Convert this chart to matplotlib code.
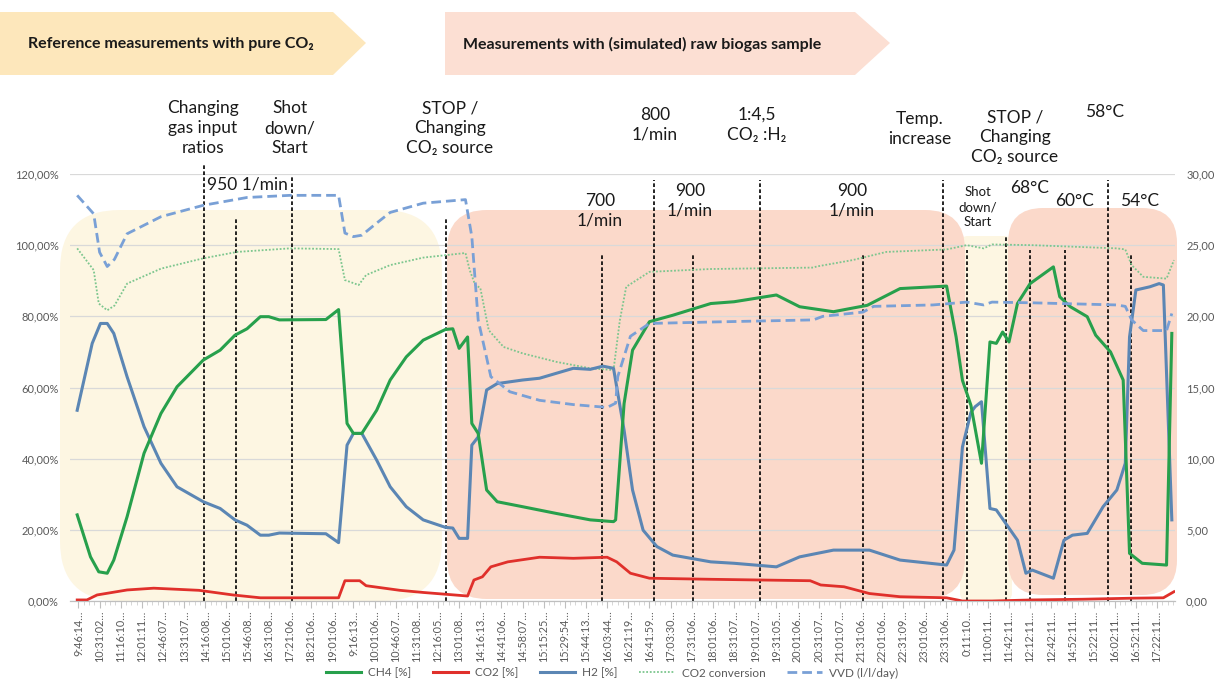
import matplotlib
matplotlib.use("Agg")
import matplotlib.pyplot as plt
import matplotlib.transforms as mtransforms
from matplotlib.patches import FancyBboxPatch, Polygon
from matplotlib.lines import Line2D

plt.rcParams['font.family'] = ['Lato', 'DejaVu Sans']

# ---------------- data ----------------
time_labels = ["9:46:14", "10:31:02", "11:16:10", "12:01:11", "12:46:07", "13:31:07", "14:16:08",
               "15:01:06", "15:46:08", "16:31:08", "17:21:06", "18:21:06", "19:01:06", "9:16:13",
               "10:01:06", "10:46:07", "11:31:08", "12:16:05", "13:01:08", "14:16:13", "14:41:06",
               "14:58:07", "15:15:25", "15:29:54", "15:44:13", "16:03:44", "16:21:19", "16:41:59",
               "17:03:30", "17:31:06", "18:01:06", "18:31:07", "19:01:07", "19:31:05", "20:01:06",
               "20:31:07", "21:01:07", "21:31:06", "22:01:06", "22:31:09", "23:01:06", "23:31:06",
               "0:11:10", "11:00:11", "11:42:11", "12:12:11", "12:42:11", "14:52:11", "15:22:11",
               "16:02:11", "16:52:11", "17:22:11"]

ch4_x = [-0.06, 0.57, 0.96, 1.36, 1.67, 2.3, 3.1, 3.9, 4.66, 5.9, 6.7, 7.4, 7.97, 8.6, 9.0, 9.5,
         11.7, 12.3, 12.7, 13.0, 13.4, 14.1, 14.74, 15.5, 16.3, 17.35, 17.7, 18.0, 18.4, 18.6, 18.9,
         19.3, 19.8, 21.0, 22.6, 24.2, 25.3, 25.4, 25.8, 26.2, 27.0, 28.1, 29.9, 31.0, 33.0, 34.1,
         35.7, 37.3, 38.85, 41.05, 41.5, 41.8, 42.2, 42.7, 43.1, 43.4, 43.7, 44.0, 44.4, 45.0, 46.1,
         46.4, 46.9, 47.7, 48.1, 48.8, 49.4, 49.7, 50.3, 51.45, 51.7]
ch4_y = [24.2, 12.4, 8.2, 7.8, 11.5, 23.7, 41.5, 52.7, 60.2, 67.7, 70.5, 74.7, 76.5, 79.9, 79.9, 79.0,
         79.1, 81.9, 49.9, 47.1, 47.1, 53.6, 62.1, 68.6, 73.3, 76.3, 76.5, 71.0, 74.2, 49.9, 47.1,
         31.2, 27.9, 26.5, 24.6, 22.8, 22.3, 22.8, 55.5, 70.5, 78.5, 80.3, 83.6, 84.1, 86.0, 82.7,
         81.3, 83.1, 87.8, 88.5, 74.2, 62.0, 55.0, 38.7, 72.8, 72.4, 75.6, 72.8, 83.6, 89.2, 93.9,
         85.5, 82.7, 79.9, 74.7, 70.0, 62.1, 13.4, 10.6, 10.1, 75.2]

h2_x = [-0.06, 0.65, 1.04, 1.36, 1.67, 2.3, 3.1, 3.9, 4.66, 5.9, 6.7, 7.4, 7.97, 8.6, 9.0, 9.5, 11.7,
        12.3, 12.7, 13.0, 13.4, 14.1, 14.74, 15.5, 16.3, 17.35, 17.7, 18.0, 18.4, 18.6, 18.9, 19.3,
        19.8, 21.0, 21.8, 22.6, 23.4, 24.2, 24.8, 25.3, 25.8, 26.2, 26.7, 27.35, 28.1, 29.9, 31.0,
        33.0, 34.1, 35.7, 37.4, 38.85, 41.05, 41.4, 41.8, 42.2, 42.4, 42.7, 43.1, 43.4, 44.4, 44.8,
        45.1, 46.1, 46.6, 47.0, 47.7, 48.45, 49.1, 49.5, 49.7, 50.0, 50.66, 51.1, 51.3, 51.7]
h2_y = [53.6, 72.4, 78.0, 78.0, 75.2, 63.0, 49.0, 38.7, 32.1, 27.9, 26.0, 22.8, 21.3, 18.5, 18.5, 19.1,
        18.9, 16.4, 43.8, 47.1, 47.1, 39.6, 32.1, 26.5, 22.8, 20.7, 20.5, 17.6, 17.6, 43.8, 46.1, 59.3,
        61.1, 62.1, 62.6, 64.0, 65.4, 65.1, 66.0, 65.4, 48.0, 31.2, 19.9, 15.3, 12.9, 11.0, 10.6,
        9.6, 12.4, 14.3, 14.3, 11.5, 10.1, 14.3, 43.3, 53.0, 54.6, 56.0, 26.0, 25.6, 17.1, 7.8,
        8.7, 6.4, 17.1, 18.5, 19.0, 26.5, 31.2, 38.7, 74.2, 87.4, 88.3, 89.2, 88.8, 22.8]

co2_x = [-0.06, 0.4, 0.88, 2.3, 3.56, 5.7, 7.3, 8.6, 12.3, 12.6, 13.3, 13.6, 15.2, 16.3, 18.4, 18.7,
         19.1, 19.5, 20.3, 21.8, 23.4, 25.0, 25.45, 26.1, 27.0, 29.9, 34.6, 35.1, 36.2, 37.4, 38.85,
         41.05, 41.8, 43.2, 45.1, 47.5, 49.9, 51.3, 51.8]
co2_y = [0.3, 0.3, 1.7, 3.1, 3.6, 3.0, 1.7, 0.9, 0.9, 5.7, 5.7, 4.3, 3.0, 2.4, 1.4, 5.9,
         6.8, 9.6, 11.0, 12.3, 12.0, 12.3, 11.0, 7.8, 6.4, 6.1, 5.7, 4.5, 4.0, 2.1, 1.2,
         0.9, 0.0, 0.0, 0.3, 0.5, 0.8, 0.9, 2.6]

conv_x = [-0.06, 0.72, 0.96, 1.36, 1.7, 2.3, 3.9, 5.9, 7.5, 10.0, 12.3, 12.6, 13.25, 13.6, 14.74,
          16.3, 18.3, 18.5, 18.76, 19.0, 19.4, 20.1, 21.0, 22.6, 24.2, 25.3, 25.6, 25.9, 27.0, 29.9,
          34.75, 34.9, 36.6, 38.2, 41.05, 42.0, 42.8, 43.2, 45.1, 49.1, 49.5, 49.8, 50.35, 51.45, 51.8]
conv_y = [99.1, 93.0, 83.6, 81.7, 83.0, 89.2, 93.4, 96.3, 98.1, 99.1, 98.9, 90.2, 88.8, 91.6, 94.4,
          96.5, 97.8, 93.0, 88.8, 88.0, 76.1, 71.4, 69.6, 67.2, 65.4, 64.9, 78.9, 88.3, 92.5, 93.3,
          93.7, 94.0, 95.8, 98.1, 98.8, 100.0, 99.1, 100.2, 100.0, 99.1, 98.8, 94.4, 91.1, 90.6, 95.8]

vvd_x = [-0.06, 0.72, 1.0, 1.36, 1.7, 2.3, 3.9, 5.9, 7.97, 10.0, 12.3, 12.6, 13.0, 13.4, 14.1, 14.74,
         16.3, 18.3, 18.6, 18.9, 19.5, 20.4, 21.8, 23.4, 25.0, 25.4, 25.5, 26.1, 27.0, 29.9, 34.75,
         35.2, 37.1, 37.6, 40.4, 42.0, 42.8, 43.2, 45.1, 49.1, 49.5, 49.8, 50.35, 51.45, 51.7]
vvd_y = [28.5, 27.2, 24.5, 23.5, 24.0, 25.8, 27.0, 27.8, 28.35, 28.5, 28.5, 25.85, 25.6, 25.7, 26.55,
         27.3, 27.95, 28.2, 25.6, 19.75, 15.76, 14.7, 14.1, 13.8, 13.6, 13.9, 15.76, 18.6, 19.5, 19.6,
         19.75, 20.0, 20.3, 20.7, 20.8, 21.0, 20.8, 21.0, 20.95, 20.8, 20.7, 19.75, 19.0, 19.0, 20.2]

# event markers (position in sample-index units, top of dashed line in %)
event_x = [5.95, 7.47, 10.09, 17.39, 24.76, 27.22, 29.06, 32.23, 37.1, 40.88, 42.01, 43.86,
           44.99, 46.64, 48.68, 49.76]
event_top = [123.0, 107.6, 119.4, 107.6, 97.8, 118.3, 97.8, 118.3, 97.8, 118.3, 98.6, 102.2,
             98.6, 98.6, 118.3, 97.8]

# ---------------- figure ----------------
W, H = 1223, 686
fig = plt.figure(figsize=(W / 100, H / 100), dpi=100)
pix = mtransforms.Affine2D().scale(1 / W, -1 / H).translate(0, 1) + fig.transFigure

L, R, T, B = 70, 1175, 174, 601
ax = fig.add_axes([L / W, 1 - B / H, (R - L) / W, (B - T) / H])
ax2 = ax.twinx()
ax.set_xlim(-0.4, 51.85)
ax.set_ylim(0, 120)
ax2.set_ylim(0, 30)

C_CH4 = '#27a04c'
C_CO2 = '#e0302b'
C_H2 = '#5b86b4'
C_CONV = '#7cc68e'
C_VVD = '#79a0d6'
TXT = '#595959'

# background shading
shades = [
    (60, 210, 382, 391, 60, '#fdf6e2'),
    (960, 236, 52, 365, 8, '#fdf6e2'),
    (447, 210, 518, 389, 40, '#fbd9ca'),
    (1008, 208, 169, 387, 35, '#fbd9ca'),
]
for (x0, y0, w, h, r, c) in shades:
    p = FancyBboxPatch((x0, y0), w, h, boxstyle=f"round,pad=0,rounding_size={r}",
                       transform=pix, facecolor=c, edgecolor='none', zorder=0.2, clip_on=False)
    ax.add_patch(p)

ax.set_axisbelow(True)
ax.yaxis.grid(True, color='#d9d9d9', lw=0.9)
ax.set_yticks(range(0, 121, 20))
ax.set_yticklabels([f"{v:.2f}%".replace('.', ',') for v in range(0, 121, 20)])
ax2.set_yticks(range(0, 31, 5))
ax2.set_yticklabels([f"{v:.2f}".replace('.', ',') for v in range(0, 31, 5)])
ax.set_xticks(range(len(time_labels)))
ax.set_xticklabels([t + "…" for t in time_labels], rotation=90)
ax.set_xticks([i + f for i in range(len(time_labels)) for f in (0.25, 0.5, 0.75)], minor=True)
ax.tick_params(axis='x', which='major', length=5, color='#bfbfbf', labelsize=7.8, labelcolor=TXT, pad=2)
ax.tick_params(axis='x', which='minor', length=3, color='#d0d0d0')
ax.tick_params(axis='y', length=0, labelsize=8, labelcolor=TXT, pad=8)
ax2.tick_params(axis='y', length=0, labelsize=8, labelcolor=TXT, pad=8)
for a in (ax, ax2):
    for s in ('top', 'left', 'right'):
        a.spines[s].set_visible(False)
    a.spines['bottom'].set_color('#bfbfbf')

# event lines
ax.vlines(event_x, 0, event_top, colors='black', linestyles=(0, (2.2, 1.4)), lw=1.2,
          zorder=1.5, clip_on=False)

# series
ax.plot(conv_x, conv_y, color=C_CONV, lw=1.3, ls=(0, (1, 1)), zorder=3)
ax.plot(co2_x, co2_y, color=C_CO2, lw=2, zorder=3)
ax.plot(h2_x, h2_y, color=C_H2, lw=2.2, zorder=3)
ax.plot(ch4_x, ch4_y, color=C_CH4, lw=2.2, zorder=3)
ax2.plot(vvd_x, vvd_y, color=C_VVD, lw=2.0, ls=(0, (3.5, 1.8)), zorder=3)

# legend
handles = [Line2D([], [], color=C_CH4, lw=2.2), Line2D([], [], color=C_CO2, lw=2.2),
           Line2D([], [], color=C_H2, lw=2.2), Line2D([], [], color=C_CONV, lw=1.3, ls=(0, (1, 1))),
           Line2D([], [], color=C_VVD, lw=2, ls=(0, (3.5, 1.8)))]
labels = ["CH4 [%]", "CO2 [%]", "H2 [%]", "CO2 conversion", "VVD (l/l/day)"]
fig.legend(handles, labels, loc='center', bbox_to_anchor=(612 / W, 1 - 673 / H), ncol=5,
           frameon=False, fontsize=8.5, labelcolor=TXT, handlelength=3.0, columnspacing=1.8,
           handletextpad=0.6, borderpad=0.1)

# banners
banners = [([(0, 12), (333, 12), (366, 43), (333, 75), (0, 75)], '#fde7bb',
            "Reference measurements with pure CO₂", 28),
           ([(445, 12), (855, 12), (890, 43), (855, 75), (445, 75)], '#fcdfd3',
            "Measurements with (simulated) raw biogas sample", 463)]
for pts, c, txt, tx in banners:
    fig.add_artist(Polygon(pts, closed=True, transform=pix, facecolor=c, edgecolor='none'))
    fig.text(tx / W, 1 - 44 / H, txt, ha='left', va='center', fontsize=11.5,
             fontweight='bold', color='#1a1a1a')


def ftext(x, y, s, size=12.5, ls=1.3, ha='center', **kw):
    fig.text(x / W, 1 - y / H, s, ha=ha, va='center', fontsize=size, linespacing=ls,
             color='#1a1a1a', **kw)


ftext(203, 128, "Changing\ngas input\nratios")
ftext(290, 128, "Shot\ndown/\nStart")
ftext(450, 128, "STOP /\nChanging\nCO₂ source")
ftext(655, 125, "800\n1/min")
ftext(757, 125, "1:4,5\nCO₂ :H₂")
ftext(920, 129, "Temp.\nincrease")
ftext(1015, 137, "STOP /\nChanging\nCO₂ source")
ftext(1105, 112, "58°C")
ftext(207, 185, "950 1/min", ha='left')
ftext(600, 211, "700\n1/min")
ftext(690, 201, "900\n1/min")
ftext(852, 201, "900\n1/min")
ftext(978, 207, "Shot\ndown/\nStart", size=9.5, ls=1.25)
ftext(1030, 188, "68°C")
ftext(1075, 201, "60°C")
ftext(1140, 201, "54°C")

fig.savefig("out.png", dpi=100)
